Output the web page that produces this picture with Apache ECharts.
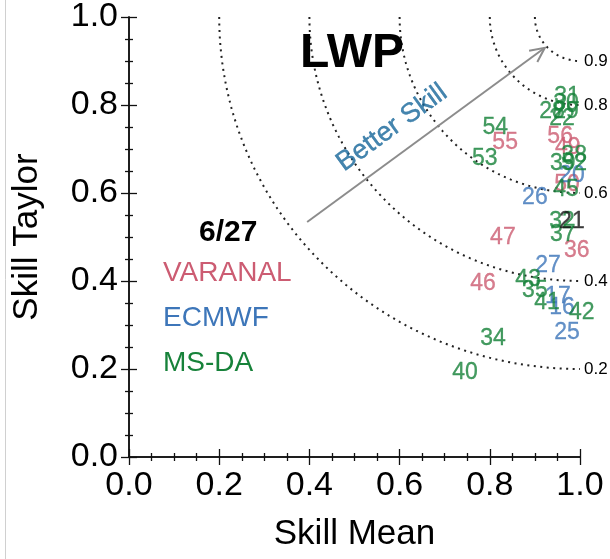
<!DOCTYPE html>
<html>
<head>
<meta charset="utf-8">
<script src="https://cdn.jsdelivr.net/npm/echarts@6/dist/echarts.min.js"></script>
<style>
html,body{margin:0;padding:0;background:#fff;}
#chart{width:610px;height:559px;}
</style>
</head>
<body>
<div id="chart"></div>
<script>
// ---- data ----
var xTicks = [0.0, 0.2, 0.4, 0.6, 0.8, 1.0];
var yTicks = [0.0, 0.2, 0.4, 0.6, 0.8, 1.0];
var arcLevels = [0.9, 0.8, 0.6, 0.4, 0.2];

var varanalIds    = [55, 56, 49, 50, 47, 36, 46];
var varanalMean   = [0.834, 0.956, 0.973, 0.971, 0.829, 0.993, 0.785];
var varanalTaylor = [0.714, 0.727, 0.702, 0.620, 0.498, 0.470, 0.395];

var ecmwfIds    = [26, 20, 27, 17, 16, 25];
var ecmwfMean   = [0.900, 0.982, 0.929, 0.951, 0.960, 0.971];
var ecmwfTaylor = [0.589, 0.639, 0.436, 0.364, 0.339, 0.282];

var msdaIds    = [54, 53, 31, 30, 28, 29, 22, 38, 39, 52, 45, 32, 37, 43, 35, 41, 42, 34, 40];
var msdaMean   = [0.812, 0.789, 0.971, 0.969, 0.938, 0.969, 0.960, 0.987, 0.962, 0.987, 0.969, 0.960, 0.962, 0.885, 0.900, 0.927, 1.004, 0.807, 0.745];
var msdaTaylor = [0.748, 0.677, 0.820, 0.802, 0.786, 0.786, 0.770, 0.684, 0.666, 0.666, 0.607, 0.534, 0.505, 0.402, 0.377, 0.350, 0.327, 0.268, 0.191];

var otherIds    = [21];
var otherMean   = [0.982];
var otherTaylor = [0.534];

var arrowFrom = [0.395, 0.534];
var arrowTo   = [0.922, 0.930];
var arrowText = 'Better Skill';
var arrowTextPos = [0.583, 0.748];

// ---- styles ----
var FONT = "'Liberation Sans', Arial, Helvetica, sans-serif";
var PINK = '#cc5c72', BLUE = '#3d76b9', GREEN = '#17823a';

function pts(ids, xs, ys) {
  return ids.map(function (id, i) { return [xs[i], ys[i], id]; });
}
function textSeries(name, ids, xs, ys, color) {
  return {
    name: name, type: 'scatter', silent: true, clip: false,
    symbolSize: 0.1, itemStyle: { color: 'transparent' },
    data: pts(ids, xs, ys),
    label: { show: true, position: 'inside', formatter: function (p) { return String(p.value[2]); },
      fontSize: 23, fontFamily: FONT, color: color, textBorderColor: color, textBorderWidth: 0.3 },
    z: 5
  };
}
function arcSeries(level) {
  var r = 1 - level, data = [];
  var n = 60;
  for (var k = 0; k <= n; k++) {
    var t = (Math.PI / 2) * k / n;
    data.push([1 - r * Math.cos(t), 1 - r * Math.sin(t)]);
  }
  return {
    type: 'line', silent: true, symbol: 'none', clip: false, data: data,
    lineStyle: { color: '#222', width: 2, type: [2, 4.5] },
    endLabel: { show: true, formatter: function () { return level.toFixed(1); },
      fontSize: 17, fontFamily: FONT, color: '#000', distance: 4 },
    z: 2
  };
}

var tickCommon = {
  axisLine: { show: true, lineStyle: { color: '#111', width: 1.5 } },
  axisTick: { show: true, inside: true, length: 8, lineStyle: { color: '#111', width: 1.3 } },
  minorTick: { show: true, splitNumber: 4, length: 4, lineStyle: { color: '#111', width: 1.3 } },
  splitLine: { show: false }
};

var chart = echarts.init(document.getElementById('chart'));
var series = [];
arcLevels.forEach(function (l) { series.push(arcSeries(l)); });
series.push({
  type: 'custom', silent: true, clip: false,
  encode: { x: [0, 2], y: [1, 3] },
  data: [[arrowFrom[0], arrowFrom[1], arrowTo[0], arrowTo[1]]],
  renderItem: function (params, api) {
    var p0 = api.coord([api.value(0), api.value(1)]);
    var p1 = api.coord([api.value(2), api.value(3)]);
    var ang = Math.atan2(p1[1] - p0[1], p1[0] - p0[0]);
    var L = 16, a = 0.45;
    var h1 = [p1[0] - L * Math.cos(ang - a), p1[1] - L * Math.sin(ang - a)];
    var h2 = [p1[0] - L * Math.cos(ang + a), p1[1] - L * Math.sin(ang + a)];
    var st = { stroke: '#8c8c8c', lineWidth: 2 };
    return { type: 'group', children: [
      { type: 'line', shape: { x1: p0[0], y1: p0[1], x2: p1[0], y2: p1[1] }, style: st },
      { type: 'polyline', shape: { points: [h1, p1, h2] }, style: { stroke: '#8c8c8c', lineWidth: 2, fill: null } }
    ] };
  },
  z: 3
});
series.push({
  type: 'scatter', silent: true, clip: false, symbolSize: 0.1, itemStyle: { color: 'transparent' },
  data: [[arrowTextPos[0], arrowTextPos[1]]],
  label: { show: true, position: 'inside', rotate: 36, formatter: arrowText,
    fontSize: 27, fontFamily: FONT, color: '#16679a', textBorderColor: '#16679a', textBorderWidth: 0.4 },
  z: 4
});
series.push(textSeries('VARANAL', varanalIds, varanalMean, varanalTaylor, PINK));
series.push(textSeries('ECMWF', ecmwfIds, ecmwfMean, ecmwfTaylor, BLUE));
series.push(textSeries('MS-DA', msdaIds, msdaMean, msdaTaylor, GREEN));
series.push(textSeries('other', otherIds, otherMean, otherTaylor, '#111'));

var option = {
  backgroundColor: '#fff',
  animation: false,
  title: { text: 'LWP', left: 295, top: 25,
    textStyle: { fontSize: 48, fontWeight: 'bold', fontFamily: FONT, color: '#000' } },
  grid: { left: 129, right: 30, top: 17, bottom: 102, containLabel: false },
  xAxis: [
    Object.assign({}, tickCommon, {
      type: 'value', min: 0, max: 1, interval: 0.2, position: 'bottom',
      name: 'Skill Mean', nameLocation: 'middle', nameGap: 60,
      nameTextStyle: { fontSize: 35, fontFamily: FONT, color: '#000' },
      axisLabel: { fontSize: 34, fontFamily: FONT, color: '#000', margin: 12,
        formatter: function (v) { return v.toFixed(1); } }
    }),
    Object.assign({}, tickCommon, {
      type: 'value', min: 0, max: 1, interval: 0.2, position: 'top',
      axisLabel: { show: false }
    })
  ],
  yAxis: [
    Object.assign({}, tickCommon, {
      type: 'value', min: 0, max: 1, interval: 0.2, position: 'left',
      name: 'Skill Taylor', nameLocation: 'middle', nameGap: 84,
      nameTextStyle: { fontSize: 35, fontFamily: FONT, color: '#000' },
      axisLabel: { fontSize: 34, fontFamily: FONT, color: '#000', margin: 11,
        formatter: function (v) { return v.toFixed(1); } }
    }),
    Object.assign({}, tickCommon, {
      type: 'value', min: 0, max: 1, interval: 0.2, position: 'right',
      axisLabel: { show: false }
    })
  ],
  graphic: [
    { type: 'line', shape: { x1: 5.5, y1: 0, x2: 5.5, y2: 559 }, style: { stroke: '#d0d0d0', lineWidth: 1 } },
    { type: 'text', left: 199, top: 218, style: { text: '6/27', fontSize: 30, fontWeight: 'bold', fontFamily: FONT, fill: '#000' } },
    { type: 'text', left: 163, top: 259, style: { text: 'VARANAL', fontSize: 28, fontFamily: FONT, fill: PINK } },
    { type: 'text', left: 163, top: 304, style: { text: 'ECMWF', fontSize: 28, fontFamily: FONT, fill: BLUE } },
    { type: 'text', left: 163, top: 349, style: { text: 'MS-DA', fontSize: 28, fontFamily: FONT, fill: GREEN } }
  ],
  series: series
};
chart.setOption(option);
</script>
</body>
</html>
